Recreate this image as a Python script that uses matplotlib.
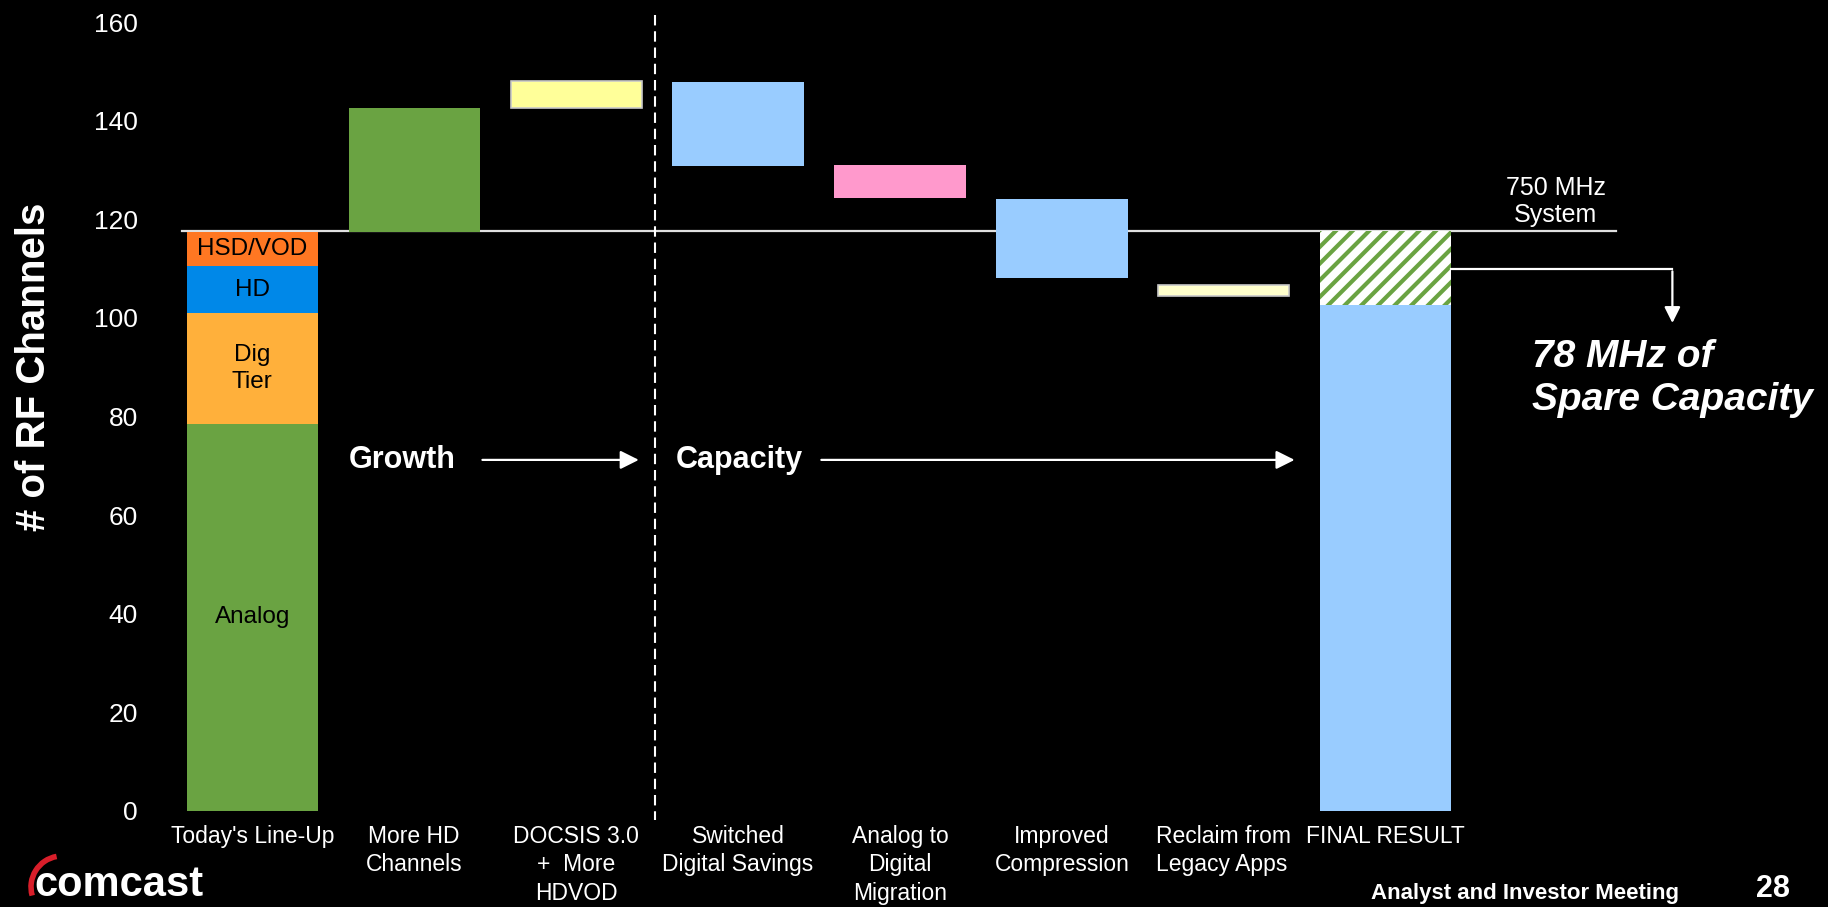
import matplotlib.pyplot as plt
from matplotlib.patches import Arc

plt.rcParams['font.family'] = ['Liberation Sans', 'DejaVu Sans']
plt.rcParams['hatch.linewidth'] = 3.0
plt.rcParams['hatch.color'] = '#6AA342'

# data
categories = ["Today's Line-Up", "More HD\nChannels", "DOCSIS 3.0\n+  More\nHDVOD",
              "Switched\nDigital Savings", "Analog to\nDigital\nMigration",
              "Improved\nCompression", "Reclaim from\nLegacy Apps", "FINAL RESULT"]

lineup_labels = ["Analog", "Dig\nTier", "HD", "HSD/VOD"]
lineup_values = [78.5, 22.5, 9.5, 7.0]
lineup_colors = ['#6AA342', '#FFB03B', '#0088E8', '#FF7722']

step_bottoms = [117.5, 142.6, 130.8, 124.4, 108.1, 104.4]
step_tops = [142.6, 148.0, 147.8, 130.9, 124.2, 106.7]
step_colors = ['#6AA342', '#FFFF99', '#99CCFF', '#FF99CC', '#99CCFF', '#FFFFCC']
step_edges = ['none', '#C8C8C8', 'none', 'none', 'none', '#C8C8C8']

final_value = 102.6
system_capacity = 117.6   # 750 MHz system
yticks = [0, 20, 40, 60, 80, 100, 120, 140, 160]

W, H = 1828, 907
fig = plt.figure(figsize=(W / 100, H / 100), dpi=100, facecolor='black')
ax = fig.add_axes([160 / W, (H - 811) / H, 1480 / W, 789 / H])
ax.set_facecolor('black')
bw = 0.81

# 750 MHz system line (behind bars)
ax.plot([-0.435, 8.42], [system_capacity, system_capacity], color='#E0E0E0', lw=1.6, zorder=1)

# today's line-up stacked
base = 0
for lab, v, c in zip(lineup_labels, lineup_values, lineup_colors):
    ax.bar(0, v, bottom=base, width=bw, color=c, zorder=2)
    ax.text(0, base + v / 2, lab, ha='center', va='center', fontsize=17.5, color='black',
            linespacing=1.3, zorder=3)
    base += v

# floating steps
for i, (b, t, c, e) in enumerate(zip(step_bottoms, step_tops, step_colors, step_edges)):
    ax.bar(i + 1, t - b, bottom=b, width=bw, color=c, edgecolor=e,
           linewidth=1.2 if e != 'none' else 0, zorder=2)

# final result
ax.bar(7, final_value, width=bw, color='#99CCFF', zorder=2)
ax.bar(7, system_capacity - final_value, bottom=final_value, width=bw, color='white',
       edgecolor='#6AA342', hatch='//', linewidth=0, zorder=2)

# divider
ax.plot([2.485, 2.485], [161.4, -1.8], color='white', lw=1.5,
        linestyle=(0, (5, 2.8)), clip_on=False, zorder=1)

# growth / capacity arrows
arrow_kw = dict(arrowstyle='-|>', color='white', lw=1.6, mutation_scale=28)
ax.text(0.923, 71.2, 'Growth', ha='center', va='center', fontsize=22, fontweight='bold', color='white')
ax.annotate('', xy=(2.404, 71.2), xytext=(1.404, 71.2), arrowprops=arrow_kw)
ax.text(3.009, 71.2, 'Capacity', ha='center', va='center', fontsize=22, fontweight='bold', color='white')
ax.annotate('', xy=(6.454, 71.2), xytext=(3.497, 71.2), arrowprops=arrow_kw)

# spare capacity callout
ax.plot([7.405, 8.77], [109.9, 109.9], color='white', lw=1.6, clip_on=False)
ax.annotate('', xy=(8.77, 98.4), xytext=(8.77, 110.0),
            arrowprops=dict(arrowstyle='-|>', color='white', lw=1.6, mutation_scale=24),
            annotation_clip=False)
ax.text(7.90, 87.8, '78 MHz of\nSpare Capacity', ha='left', va='center', fontsize=28,
        fontweight='bold', fontstyle='italic', color='white', linespacing=1.25, clip_on=False)
ax.text(8.05, 123.6, '750 MHz\nSystem', ha='center', va='center', fontsize=18,
        color='white', linespacing=1.2)

ax.set_xlim(-0.57, 8.57)
ax.set_ylim(0, 160)
ax.set_yticks(yticks)
ax.set_xticks(range(len(categories)))
ax.set_xticklabels(categories, fontsize=16.5, color='white', linespacing=1.3, va='top')
ax.tick_params(axis='y', colors='white', labelsize=19, length=0, pad=16)
ax.tick_params(axis='x', length=0, pad=10)
for lbl in ax.get_xticklabels():
    lbl.set_multialignment('center')
ax.get_xticklabels()[6].set_multialignment('left')
for s in ax.spines.values():
    s.set_visible(False)

fig.text(34 / W, 1 - 367 / H, '# of RF Channels', rotation=90, ha='center', va='center',
         fontsize=29, fontweight='bold', color='white')

# footer
fig.text(1525 / W, 1 - 893 / H, 'Analyst and Investor Meeting', ha='center', va='center',
         fontsize=16, fontweight='bold', color='white')
fig.text(1773 / W, 1 - 889 / H, '28', ha='center', va='center',
         fontsize=22, fontweight='bold', color='white')
fig.text(34 / W, 2 / H, 'comcast', ha='left', va='bottom',
         fontsize=30, fontweight='bold', color='white')
fig.patches.append(Arc((62 / W, 20 / H), 62 / W, 62 / H, theta1=95, theta2=210,
                       color='#D81E2A', lw=4, transform=fig.transFigure))

fig.savefig('out.png', dpi=100, facecolor='black')
